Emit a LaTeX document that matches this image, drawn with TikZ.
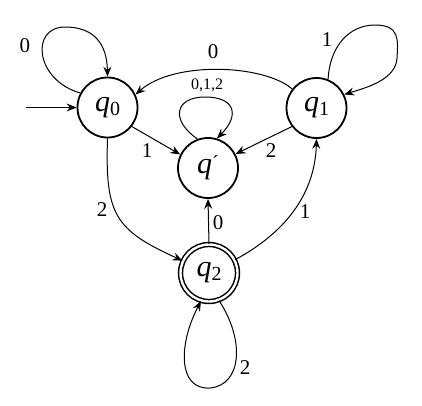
\documentclass[tikz,border=0pt]{standalone}
\usepackage{fontspec}
\setmainfont{Liberation Serif}
\usetikzlibrary{arrows.meta}
\newcommand{\stname}[1]{{\itshape q}\raisebox{-4pt}{\fontsize{20}{20}\selectfont #1}}
\begin{document}
\begin{tikzpicture}[x=1pt,y=-1pt,
  state/.style={circle,draw,line width=1.8pt,minimum size=60pt,inner sep=0pt,font=\fontsize{30}{32}\selectfont},
  accstate/.style={state,double,double distance=2.4pt,line width=1.5pt,minimum size=57pt},
  edge/.style={line width=1pt,-{Stealth[length=10pt,width=8pt,inset=3.5pt]}},
  lab/.style={font=\fontsize{21}{24}\selectfont,inner sep=0pt},
  smalllab/.style={font=\fontsize{16}{18}\selectfont,inner sep=0pt}]
\useasboundingbox (0,0) rectangle (422,405);
\node[state] (q0) at (107.5,107.5) {\stname{0}};
\node[state] (q1) at (316.5,108) {\stname{1}};
\node[state] (qp) at (208,168) {{\itshape q}\raisebox{4pt}{\fontsize{20}{20}\selectfont ´}};
\node[accstate] (q2) at (209,273) {\stname{2}};
\coordinate (init) at (26,107.5);
% initial
\draw[edge] (init) -- (q0.west);
% q0 self loop
\draw[edge] (q0.152) .. controls (35,80) and (30,27) .. (65,27) .. controls (95,27) and (107,45) .. (q0.90);
\node[lab] (l00) at (25,46) {0};
% q1 self loop
\draw[edge] (q1.68) .. controls (330,45) and (350,25) .. (375,25) .. controls (400,25) and (398,40) .. (397,58) .. controls (396,80) and (365,88) .. (q1.26);
\node[lab] (l11) at (327,40) {1};
% q1 -> q0
\draw[edge] (q1.142) .. controls (265,65) and (175,60) .. (q0.25);
\node[lab] (l10) at (213,52) {0};
% qp self loop
\draw[edge] (qp.110) .. controls (170,120) and (175,97) .. (205,97) .. controls (235,97) and (240,115) .. (qp.73);
\node[smalllab] (lpp) at (207,85) {0,1,2};
% q0 -> qp
\draw[edge] (q0.-38) -- (qp.154);
\node[lab] (l0p) at (147,151) {1};
% q1 -> qp
\draw[edge] (q1.217) -- (qp.27);
\node[lab] (l1p) at (271,151) {2};
% q0 -> q2
\draw[edge] (q0.270) .. controls (105,215) and (115,230) .. (q2.155);
\node[lab] (l02) at (102,210) {2};
% q2 -> q1
\draw[edge] (q2.27) .. controls (290,230) and (315,190) .. (q1.270);
\node[lab] (l21) at (305,212) {1};
% q2 -> qp
\draw[edge] (q2.north) -- (qp.south);
\node[lab] (l2p) at (218,223) {0};
% q2 self loop
\draw[edge] (q2.-70) .. controls (245,340) and (242,385) .. (210,388) .. controls (178,390) and (178,345) .. (q2.-106);
\node[lab] (l22) at (245,368) {2};
\end{tikzpicture}
\end{document}
